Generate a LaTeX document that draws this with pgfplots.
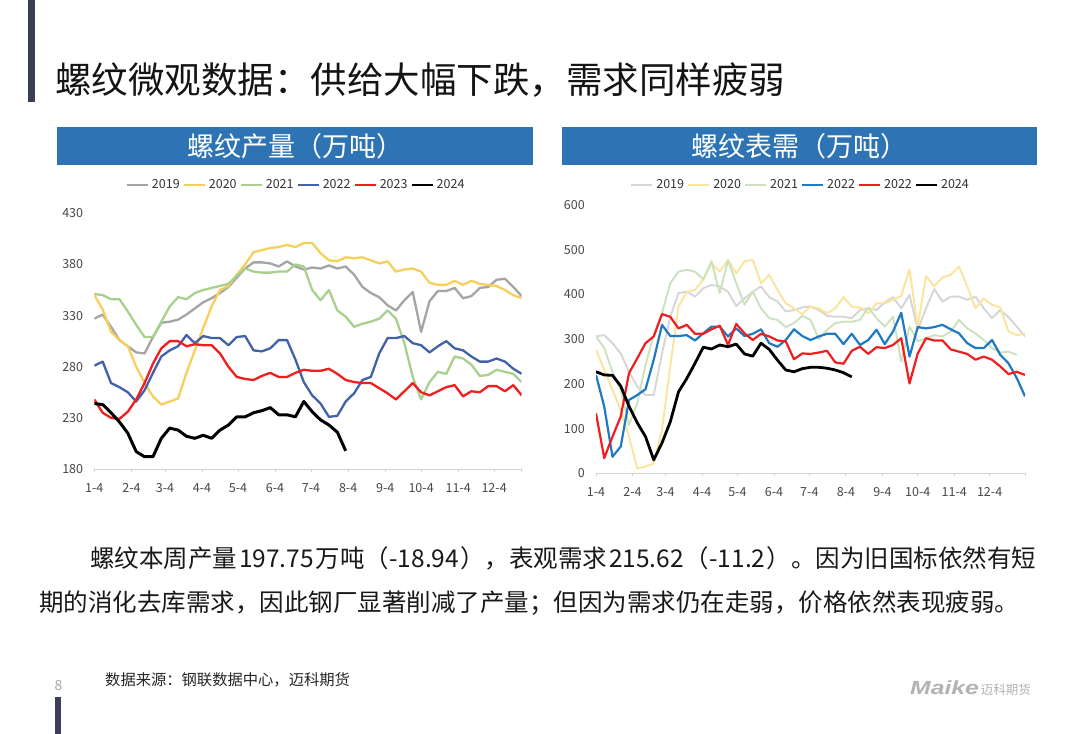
\documentclass[border=0pt]{standalone}
\usepackage{fontspec}
\setmainfont{Noto Sans CJK SC}
\newfontfamily\logofont{Liberation Sans}
\usepackage{pgfplots}
\pgfplotsset{compat=1.18}

\definecolor{barcol}{HTML}{3B3E57}
\definecolor{hdr}{HTML}{2E74B5}
\definecolor{lab}{HTML}{474747}
% left chart
\definecolor{la}{HTML}{A5A5A5}
\definecolor{lb}{HTML}{F7D05C}
\definecolor{lc}{HTML}{A9D18E}
\definecolor{ld}{HTML}{4161A8}
\definecolor{le}{HTML}{F01E1E}
% right chart
\definecolor{ra}{HTML}{D6D6D6}
\definecolor{rb}{HTML}{FBE49C}
\definecolor{rc}{HTML}{CBE2BC}
\definecolor{rd}{HTML}{1F7AC4}
\definecolor{re}{HTML}{F01E1E}

\newcommand{\fs}[1]{\fontsize{#1}{#1}\selectfont}

\pgfplotsset{
  slide/.style={
    scale only axis, anchor=south west,
    axis x line*=bottom, axis y line*=left,
    y axis line style={draw=none},
    x axis line style={draw=gray!35, line width=0.8pt},
    ytick style={draw=none},
    xtick style={draw=gray!35, line width=0.8pt},
    major tick length=3pt, tick align=outside,
    tick label style={font=\fs{12.5}, text=lab, inner sep=0pt},
    /pgf/number format/assume math mode=true,
    yticklabel style={xshift=-8pt},
    xticklabel style={yshift=-11pt},
    legend columns=-1,
    legend style={draw=none, fill=none, font=\fs{12.5}, text=black!80,
      column sep=2pt, nodes={inner sep=1pt}, anchor=center},
    legend image code/.code={\draw[##1, line width=2.2pt] (0pt,0pt) -- (21pt,0pt);},
    every axis plot/.append style={line join=round, no markers},
  },
}

\begin{document}
\begin{tikzpicture}[x=1pt,y=1pt]
\path[use as bounding box, fill=white] (0,0) rectangle (1080,734);

% slide decoration
\fill[barcol] (28,734) rectangle (35,632);
\fill[barcol] (55,0) rectangle (61,37);
\node[anchor=west, inner sep=0pt, font=\fs{36.5}, text=black!92] at (55,654)
  {螺纹微观数据：供给大幅下跌，需求同样疲弱};

% chart headers
\fill[hdr] (57,607) rectangle (533,569);
\node[font=\fs{27}, text=white] at (295,588) {螺纹产量（万吨）};
\fill[hdr] (562,607) rectangle (1037,569);
\node[font=\fs{27}, text=white] at (799.5,588) {螺纹表需（万吨）};

% ---------------- left: production ----------------
\begin{axis}[slide, at={(94.3pt,265pt)}, width=427.4pt, height=255.7pt,
  xmin=0, xmax=51, ymin=180, ymax=430, ytick={180,230,...,430},
  xtick={0,4.43,8.43,12.86,17.14,21.57,25.86,30.29,34.71,39,43.43,47.71,51},
  xticklabels={1-4,2-4,3-4,4-4,5-4,6-4,7-4,8-4,9-4,10-4,11-4,12-4,{}},
  legend style={at={(0.471,1.111)}}]
\addplot[la, line width=2.3pt] table[x expr=\coordindex, y index=0, header=false, row sep=\\] {
327\\331\\319\\306\\300\\294\\293\\309\\323\\324\\326\\331\\337\\343\\347\\352\\358\\367\\376\\382\\382\\381\\378\\383\\378\\375\\
377\\376\\379\\376\\378\\370\\358\\352\\348\\340\\335\\345\\353\\314\\344\\354\\354\\357\\347\\349\\357\\358\\365\\366\\358\\349\\};
\addplot[lb, line width=2.3pt] table[x expr=\coordindex, y index=0, header=false, row sep=\\] {
350\\336\\314\\306\\300\\280\\264\\251\\243\\246\\249\\274\\296\\318\\339\\355\\359\\370\\380\\392\\394\\396\\397\\399\\397\\401\\
401\\391\\384\\383\\387\\386\\387\\384\\381\\383\\373\\375\\376\\373\\362\\360\\360\\364\\360\\364\\361\\360\\359\\355\\350\\347\\};
\addplot[lc, line width=2.3pt] table[x expr=\coordindex, y index=0, header=false, row sep=\\] {
351\\350\\346\\346\\334\\321\\309\\309\\324\\339\\348\\346\\352\\355\\357\\359\\361\\369\\376\\373\\372\\372\\373\\373\\380\\378\\
355\\345\\355\\335\\329\\319\\322\\324\\327\\335\\327\\303\\270\\248\\265\\275\\273\\290\\288\\282\\271\\272\\277\\275\\273\\265\\};
\addplot[ld, line width=2.3pt] table[x expr=\coordindex, y index=0, header=false, row sep=\\] {
281\\285\\264\\260\\255\\246\\257\\274\\290\\296\\300\\311\\303\\310\\308\\308\\301\\309\\310\\296\\295\\298\\306\\306\\287\\265\\
252\\244\\231\\232\\246\\254\\267\\270\\293\\308\\308\\310\\303\\301\\294\\300\\305\\298\\296\\290\\285\\285\\288\\285\\278\\273\\};
\addplot[le, line width=2.3pt] table[x expr=\coordindex, y index=0, header=false, row sep=\\] {
248\\235\\230\\229\\236\\248\\264\\283\\298\\305\\305\\300\\302\\301\\301\\293\\280\\270\\268\\267\\271\\274\\270\\270\\274\\277\\
276\\276\\278\\273\\267\\265\\264\\264\\259\\254\\248\\256\\264\\255\\252\\256\\260\\262\\251\\256\\255\\261\\261\\256\\262\\252\\};
\addplot[black, line width=3pt] table[x expr=\coordindex, y index=0, header=false, row sep=\\] {
244\\243\\235\\226\\215\\197\\192\\192\\210\\220\\218\\212\\210\\213\\210\\218\\223\\231\\231\\235\\237\\240\\233\\233\\231\\246\\
236\\228\\223\\216\\197.75\\};
\legend{2019,2020,2021,2022,2023,2024}
\end{axis}

% ---------------- right: apparent demand ----------------
\begin{axis}[slide, at={(596pt,260.7pt)}, width=429pt, height=268.3pt,
  xmin=0, xmax=52, ymin=0, ymax=600, ytick={0,100,...,600},
  xtick={0,4.43,8.43,12.86,17.14,21.57,25.86,30.29,34.71,39,43.43,47.71,52},
  xticklabels={1-4,2-4,3-4,4-4,5-4,6-4,7-4,8-4,9-4,10-4,11-4,12-4,{}},
  legend style={at={(0.4755,1.0745)}}]
\addplot[ra, line width=1.9pt] table[x expr=\coordindex, y index=0, header=false, row sep=\\] {
306\\309\\291\\268\\227\\194\\175\\175\\268\\350\\403\\406\\395\\414\\421\\418\\406\\374\\391\\406\\418\\394\\384\\362\\365\\371\\
373\\365\\352\\350\\350\\347\\365\\369\\365\\382\\394\\369\\399\\321\\369\\412\\384\\395\\395\\388\\395\\369\\347\\365\\349\\328\\306\\};
\addplot[rb, line width=1.9pt] table[x expr=\coordindex, y index=0, header=false, row sep=\\] {
276\\231\\186\\142\\82\\11\\15\\22\\97\\239\\373\\406\\410\\433\\470\\451\\477\\447\\474\\477\\425\\444\\410\\380\\369\\356\\
373\\369\\358\\369\\394\\373\\371\\358\\380\\380\\388\\397\\456\\328\\441\\418\\438\\444\\462\\418\\369\\391\\377\\371\\317\\309\\313\\};
\addplot[rc, line width=1.9pt] table[x expr=\coordindex, y index=0, header=false, row sep=\\] {
306\\280\\227\\186\\108\\157\\242\\309\\358\\425\\451\\455\\451\\434\\474\\403\\476\\425\\377\\406\\369\\347\\343\\327\\336\\352\\
343\\300\\321\\336\\339\\339\\343\\371\\347\\328\\350\\250\\328\\295\\302\\309\\306\\317\\343\\324\\313\\298\\280\\270\\272\\265\\};
\addplot[rd, line width=2.2pt] table[x expr=\coordindex, y index=0, header=false, row sep=\\] {
220\\149\\37\\60\\164\\175\\188\\254\\332\\307\\307\\309\\297\\313\\328\\328\\306\\324\\307\\312\\322\\291\\283\\298\\322\\307\\
298\\306\\312\\312\\289\\312\\287\\298\\321\\289\\317\\359\\261\\327\\324\\327\\332\\322\\313\\291\\280\\280\\298\\265\\246\\213\\172\\};
\addplot[re, line width=2.2pt] table[x expr=\coordindex, y index=0, header=false, row sep=\\] {
134\\34\\82\\127\\224\\257\\291\\306\\356\\350\\324\\332\\312\\312\\322\\330\\287\\334\\313\\298\\312\\306\\297\\295\\255\\268\\
267\\270\\274\\248\\245\\274\\283\\267\\282\\280\\287\\302\\201\\268\\302\\297\\297\\277\\272\\267\\254\\261\\254\\239\\222\\227\\220\\};
\addplot[black, line width=2.8pt] table[x expr=\coordindex, y index=0, header=false, row sep=\\] {
227\\220\\219\\195\\150\\113\\82\\30\\68\\115\\182\\212\\246\\282\\278\\287\\283\\289\\267\\262\\291\\277\\253\\231\\227\\234\\
237\\237\\235\\231\\225\\215.62\\};
\legend{2019,2020,2021,2022,2022,2024}
\end{axis}

% commentary
\node[anchor=west, inner sep=0pt, font=\fs{24.5}, text=black!90] at (90,176)
  {螺纹本周产量\kern2pt197.75\kern2pt万吨（-18.94\kern1pt），表观需求\kern2pt215.62\kern1pt（-11.2\kern1pt）。因为旧国标依然有短};
\node[anchor=west, inner sep=0pt, font=\fs{24.5}, text=black!90] at (39,131)
  {期的消化去库需求，因此钢厂显著削减了产量；但因为需求仍在走弱，价格依然表现疲弱。};

% footer
\node[anchor=west, inner sep=0pt, font=\fs{15.3}, text=black!85] at (105,54)
  {数据来源：钢联数据中心，迈科期货};
\node[inner sep=0pt, font=\fs{14}, text=gray!70] at (58.5,48.5) {8};
\node[anchor=west, inner sep=0pt, text=gray!60] at (910,46)
  {\scalebox{1.3}[1]{\logofont\fs{19}\bfseries\itshape Maike}\hspace{2pt}{\fs{12.5}迈科期货}};
\end{tikzpicture}
\end{document}
